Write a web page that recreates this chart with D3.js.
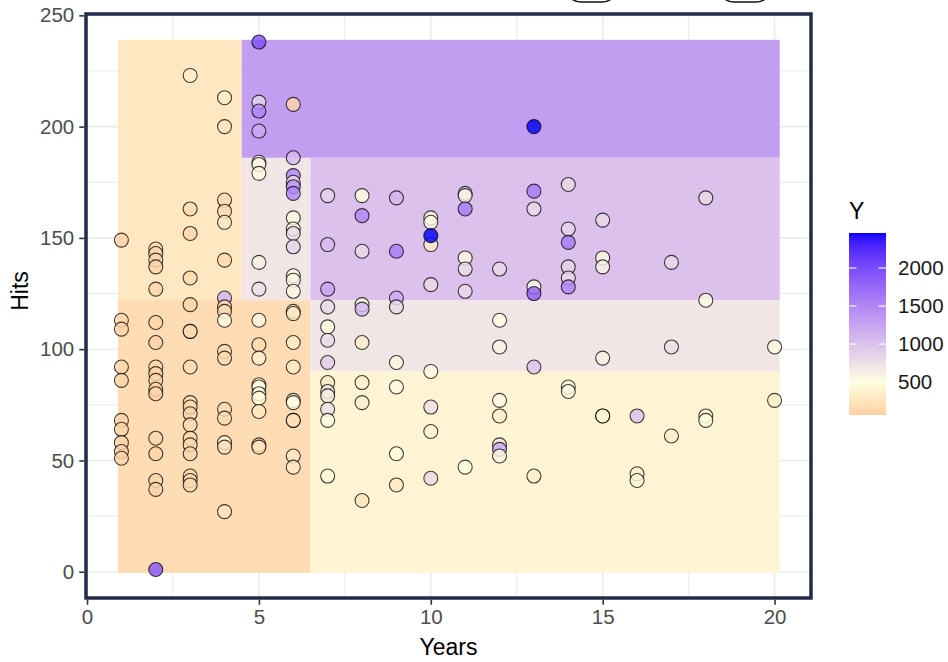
<!DOCTYPE html>
<html><head><meta charset="utf-8">
<script src="https://cdn.jsdelivr.net/npm/d3@7"></script>
<style>body{margin:0;background:#fff} svg{display:block} text{font-family:"Liberation Sans",Arial,Helvetica,sans-serif}</style>
</head><body><svg id="c" width="948" height="662"></svg>
<script>
// ---- data (Years, Hits, Salary "Y") ----
const years = [
 1,1,1,1,1,1,1,1,1,1,
 2,2,2,2,2,2,2,2,2,2,2,2,2,2,2,2,2,
 3,3,3,3,3,3,3,3,3,3,3,3,3,3,3,3,3,3,
 4,4,4,4,4,4,4,4,4,4,4,4,4,4,4,4,4,
 5,5,5,5,5,5,5,5,5,5,5,5,5,5,5,5,5,5,5,
 6,6,6,6,6,6,6,6,6,6,6,6,6,6,6,6,6,6,6,6,6,6,6,
 7,7,7,7,7,7,7,7,7,7,7,7,7,
 8,8,8,8,8,8,8,8,8,
 9,9,9,9,9,9,9,9,
 10,10,10,10,10,10,10,10,10,
 11,11,11,11,11,11,11,
 12,12,12,12,12,12,12,12,
 13,13,13,13,13,13,13,
 14,14,14,14,14,14,14,14,
 15,15,15,15,15,15,
 16,16,16,
 17,17,17,
 18,18,18,18,
 20,20];
const hits = [
 149,113,109,92,86,68,64,58,54,51,
 145,143,140,137,127,112,103,92,89,86,82,80,60,53,41,37,1,
 223,163,152,132,120,108,108,92,76,74,71,66,60,57,53,43,41,39,
 213,200,167,162,157,140,123,119,117,113,99,96,73,69,58,56,27,
 238,211,207,198,184,183,179,139,127,113,102,96,84,83,80,78,72,57,56,
 210,186,178,175,173,170,159,154,152,146,133,131,126,117,116,103,92,77,76,68,68,52,47,
 169,147,127,119,110,104,94,85,81,79,73,68,43,
 169,160,144,120,118,103,85,76,32,
 168,144,123,119,94,83,53,39,
 159,157,147,151,129,90,74,63,42,
 170,169,163,141,136,126,47,
 136,113,101,77,70,57,55,52,
 200,171,163,128,125,92,43,
 174,154,148,137,132,128,83,81,
 158,141,137,96,70,70,
 70,44,41,
 139,101,61,
 168,122,70,68,
 101,77];
const salary = [
 100,110,90,120,100,90,110,100,90,100,
 120,110,130,100,120,110,100,130,90,120,110,100,130,110,120,100,1900,
 350,150,120,160,130,140,130,170,150,140,120,160,130,150,120,140,130,160,
 320,250,150,160,300,140,1100,150,160,500,150,160,140,170,450,220,260,
 1950,850,1500,1200,550,560,550,600,750,550,150,350,450,480,500,480,300,180,250,
 100,1050,1500,800,1400,1500,550,550,800,850,550,560,550,250,300,300,300,450,500,180,200,280,300,
 850,1050,1250,800,500,800,900,300,700,650,750,500,450,
 500,1500,800,500,1100,350,350,350,250,
 1100,1600,1200,800,550,550,500,300,
 550,550,350,2460,800,550,750,400,800,
 850,600,1600,550,750,800,500,
 800,500,600,550,350,700,1200,550,
 2460,1600,800,550,1800,1000,350,
 800,850,1600,850,800,1500,550,550,
 800,550,600,600,400,400,
 1000,350,450,
 800,750,350,
 800,550,450,500,
 550,350];

// tree partition (regions) and their predicted value
const regionXMin = [0.9, 0.9, 4.5, 4.5, 6.5, 6.5, 6.5];
const regionXMax = [4.5, 6.5, 6.5, 20.15, 20.15, 20.15, 20.15];
const regionYMin = [122, -0.5, 122, 186, 122, 90, -0.5];
const regionYMax = [239, 122, 186, 239, 186, 122, 90];
const regionValue = [280, 175, 700, 1300, 1000, 700, 410];

const xTicks = [0, 5, 10, 15, 20];
const xMinor = [2.5, 7.5, 12.5, 17.5];
const yTicks = [0, 50, 100, 150, 200, 250];
const yMinor = [25, 75, 125, 175, 225];
const legendTicks = [500, 1000, 1500, 2000];
const salaryRange = [67.5, 2460];
const salaryMid = 500;

// ---- drawing ----
const svg = d3.select("#c");
const P = {l: 86, r: 811, t: 14, b: 598};
const x = d3.scaleLinear().domain([-0.03, 21.06]).range([P.l, P.r]);
const y = d3.scaleLinear().domain([-11.8, 250.6]).range([P.b, P.t]);
const color = d3.scaleLinear()
  .domain([salaryRange[0], salaryMid, salaryRange[1]])
  .range(["#ffd1a5", "#fffee0", "#0000ff"])
  .interpolate(d3.interpolateLab).clamp(true);

// top clipped shapes
svg.append("rect").attr("x", 565).attr("y", -40).attr("width", 53).attr("height", 42).attr("rx", 16)
  .attr("fill", "none").attr("stroke", "#111").attr("stroke-width", 1.5);
svg.append("rect").attr("x", 718).attr("y", -40).attr("width", 54).attr("height", 42).attr("rx", 16)
  .attr("fill", "none").attr("stroke", "#111").attr("stroke-width", 1.5);

const g = svg.append("g");
g.append("rect").attr("x", P.l).attr("y", P.t).attr("width", P.r - P.l).attr("height", P.b - P.t).attr("fill", "#fff");
// grid
g.selectAll(".gxm").data(xMinor).join("line").attr("x1", d => x(d)).attr("x2", d => x(d)).attr("y1", P.t).attr("y2", P.b).attr("stroke", "#ebebeb").attr("stroke-width", 1);
g.selectAll(".gym").data(yMinor).join("line").attr("y1", d => y(d)).attr("y2", d => y(d)).attr("x1", P.l).attr("x2", P.r).attr("stroke", "#ebebeb").attr("stroke-width", 1);
g.selectAll(".gx").data(xTicks).join("line").attr("x1", d => x(d)).attr("x2", d => x(d)).attr("y1", P.t).attr("y2", P.b).attr("stroke", "#ebebeb").attr("stroke-width", 1.6);
g.selectAll(".gy").data(yTicks).join("line").attr("y1", d => y(d)).attr("y2", d => y(d)).attr("x1", P.l).attr("x2", P.r).attr("stroke", "#ebebeb").attr("stroke-width", 1.6);

// regions
const regions = regionValue.map((v, i) => ({x0: regionXMin[i], x1: regionXMax[i], y0: regionYMin[i], y1: regionYMax[i], v}));
g.selectAll(".reg").data(regions).join("rect")
  .attr("x", d => x(d.x0)).attr("width", d => x(d.x1) - x(d.x0))
  .attr("y", d => y(d.y1)).attr("height", d => y(d.y0) - y(d.y1))
  .attr("fill", d => color(d.v));

// points
const pts = years.map((yr, i) => ({yr, h: hits[i], s: salary[i]}));
g.selectAll(".pt").data(pts).join("circle")
  .attr("cx", d => x(d.yr)).attr("cy", d => y(d.h)).attr("r", 7)
  .attr("fill", d => color(d.s)).attr("fill-opacity", 0.82)
  .attr("stroke", "#000").attr("stroke-opacity", 0.75).attr("stroke-width", 1.1);

// border
svg.append("rect").attr("x", P.l).attr("y", P.t).attr("width", P.r - P.l).attr("height", P.b - P.t)
  .attr("fill", "none").attr("stroke", "#232b4b").attr("stroke-width", 3.5);

// axes
const ax = svg.append("g").attr("transform", `translate(0,${P.b + 1.75})`)
  .call(d3.axisBottom(x).tickValues(xTicks).tickSize(5).tickPadding(5));
const ay = svg.append("g").attr("transform", `translate(${P.l - 1.75},0)`)
  .call(d3.axisLeft(y).tickValues(yTicks).tickSize(5).tickPadding(5));
[ax, ay].forEach(a => {
  a.select(".domain").remove();
  a.selectAll(".tick line").attr("stroke", "#333").attr("stroke-width", 1.6);
  a.selectAll(".tick text").attr("fill", "#4d4d4d").style("font-size", "20.5px").style("font-family", '"Liberation Sans",Arial,sans-serif');
});

svg.append("text").attr("x", (P.l + P.r) / 2).attr("y", 655).attr("text-anchor", "middle")
  .style("font-size", "23px").attr("fill", "#000").text("Years");
svg.append("text").attr("transform", `translate(28,291) rotate(-90)`).attr("text-anchor", "middle")
  .style("font-size", "23px").attr("fill", "#000").text("Hits");

// legend colorbar
const L = {x: 849, w: 37, top: 233, bot: 415};
const ly = d3.scaleLinear().domain(salaryRange).range([L.bot, L.top]);
const defs = svg.append("defs");
const grad = defs.append("linearGradient").attr("id", "cb").attr("x1", 0).attr("y1", 1).attr("x2", 0).attr("y2", 0);
d3.range(0, 1.0001, 0.02).forEach(t => {
  grad.append("stop").attr("offset", t).attr("stop-color", color(salaryRange[0] + t * (salaryRange[1] - salaryRange[0])));
});
svg.append("rect").attr("x", L.x).attr("y", L.top).attr("width", L.w).attr("height", L.bot - L.top).attr("fill", "url(#cb)");
const lt = svg.append("g");
lt.selectAll(".tl").data(legendTicks).join("line").attr("x1", L.x).attr("x2", L.x + 7.5).attr("y1", d => ly(d)).attr("y2", d => ly(d)).attr("stroke", "#fff").attr("stroke-width", 1.1);
lt.selectAll(".tr").data(legendTicks).join("line").attr("x1", L.x + L.w - 7.5).attr("x2", L.x + L.w).attr("y1", d => ly(d)).attr("y2", d => ly(d)).attr("stroke", "#fff").attr("stroke-width", 1.1);
lt.selectAll(".tt").data(legendTicks).join("text").attr("x", 898).attr("y", d => ly(d)).attr("dy", "0.35em")
  .style("font-size", "20.5px").attr("fill", "#1a1a1a").text(d => d);
svg.append("text").attr("x", 849).attr("y", 219).style("font-size", "23px").attr("fill", "#000").text("Y");
</script></body></html>
